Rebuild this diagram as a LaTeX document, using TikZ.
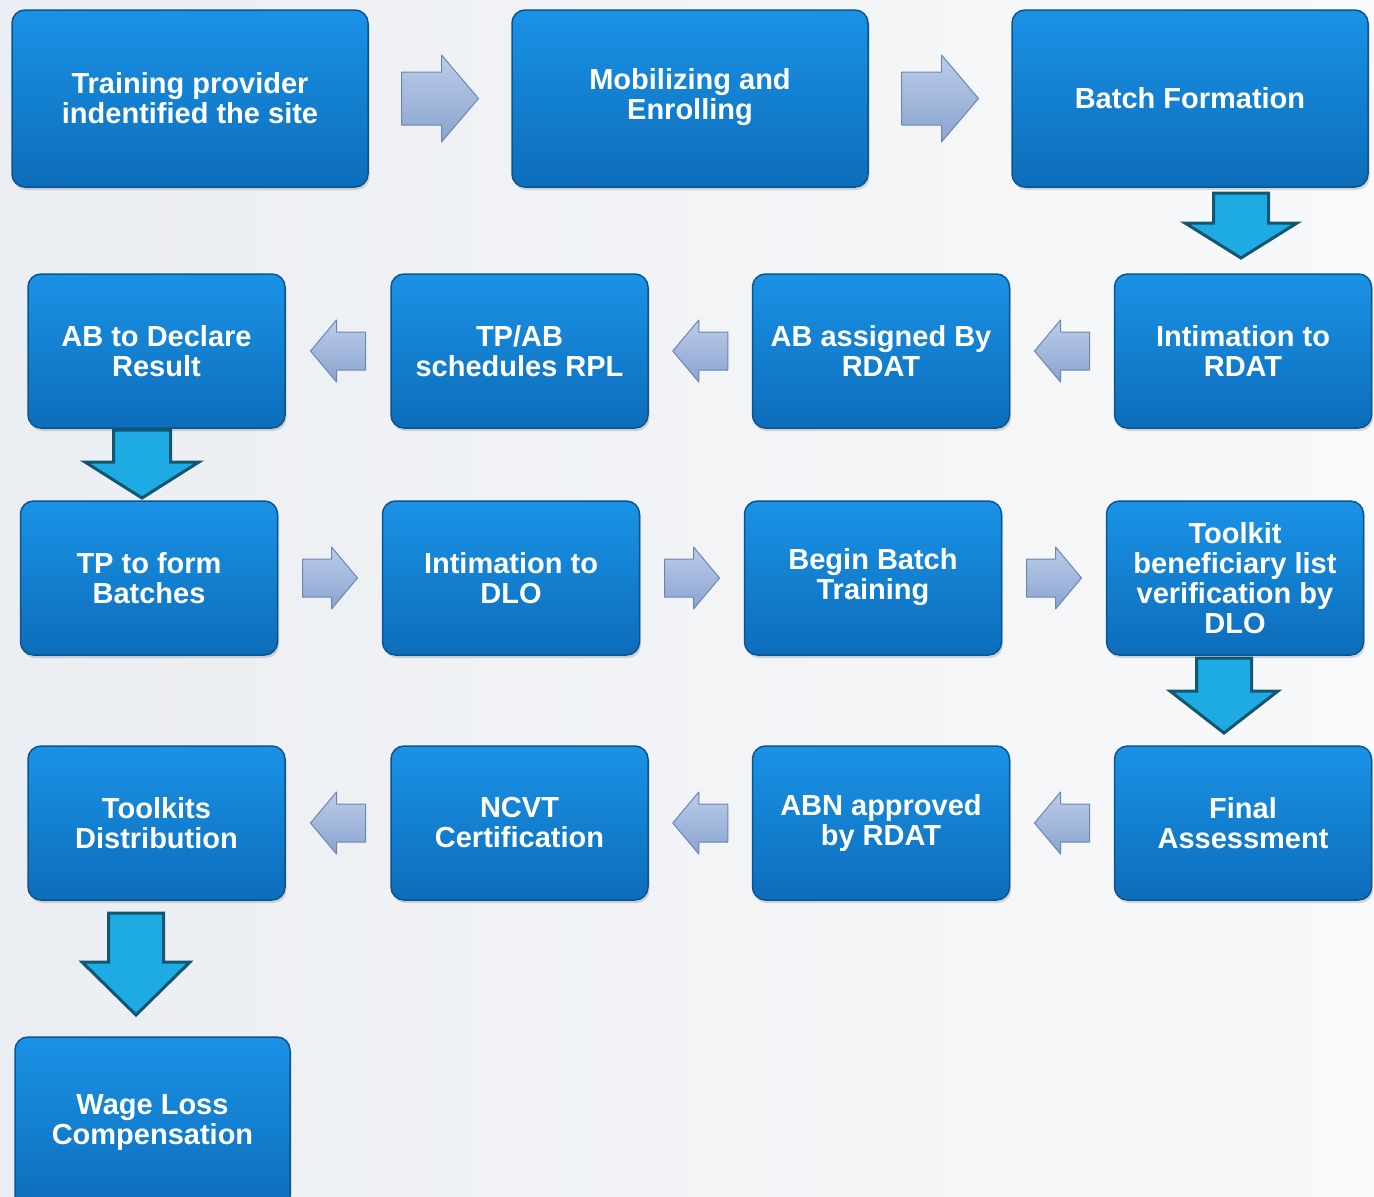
\documentclass[tikz,border=0pt]{standalone}
\usepackage{fontspec}
\setmainfont{Liberation Sans}
\usetikzlibrary{calc}
\usetikzlibrary{shadows}

\definecolor{bgleft}{HTML}{EBEEF2}
\definecolor{bgright}{HTML}{F8F9FA}
\definecolor{boxtop}{HTML}{1A92E6}
\definecolor{boxbot}{HTML}{0D6DBA}
\definecolor{boxedge}{HTML}{0A5590}
\definecolor{arrtop}{HTML}{BCCDEA}
\definecolor{arrbot}{HTML}{8AA3CF}
\definecolor{arredge}{HTML}{6C86B4}
\definecolor{downfill}{HTML}{1EAAE2}
\definecolor{downedge}{HTML}{13566F}

\tikzset{
  stepbox/.style={rounded corners=13pt, draw=boxedge, line width=1.5pt,
    top color=boxtop, bottom color=boxbot, text=white, align=center,
    font=\fontsize{29}{30}\selectfont\bfseries, inner sep=0pt,
    minimum width=257pt, minimum height=154pt,
    drop shadow={shadow xshift=1.5pt, shadow yshift=-3pt, opacity=.3}},
  widebox/.style={stepbox, minimum width=356pt, minimum height=177pt},
  % block arrow pointing along +x: length, shaft width, head width, head length
  pics/blockarrow/.style n args={4}{code={
    \path[pic actions] (-#1/2,-#2/2) -- (#1/2-#4,-#2/2) -- (#1/2-#4,-#3/2)
      -- (#1/2,0) -- (#1/2-#4,#3/2) -- (#1/2-#4,#2/2) -- (-#1/2,#2/2) -- cycle;
  }},
  flowarr/.style={draw=arredge, line width=1pt, line join=round,
    top color=arrtop, bottom color=arrbot},
  leftarr/.style={flowarr, xscale=-1},
  downarr/.style={draw=downedge, line width=3pt, fill=downfill, rotate=-90}
}

\begin{document}
\begin{tikzpicture}[x=1pt,y=-1pt]

    % background
    \fill[left color=bgleft, right color=bgright] (0,0) rectangle (1374,1197);
    \useasboundingbox (0,0) rectangle (1374,1197);

    % first row
    \node[widebox] (b1) at (190,98.5) {Training provider\\indentified the site};
    \node[widebox] (b2) at (690,98.5) {Mobilizing and\\Enrolling\strut};
    \node[widebox] (b3) at (1190,98.5) {Batch Formation};

    % second row
    \node[stepbox] (b4) at (1243,351) {Intimation to\\RDAT};
    \node[stepbox] (b5) at (881,351) {AB assigned By\\RDAT};
    \node[stepbox] (b6) at (519.5,351) {TP/AB\\schedules RPL};
    \node[stepbox] (b7) at (156.5,351) {AB to Declare\\Result};

    % third row
    \node[stepbox] (b8) at (149,578) {TP to form\\Batches};
    \node[stepbox] (b9) at (511,578) {Intimation to\\DLO};
    \node[stepbox] (b10) at (873,578) {Begin Batch\\Training\strut};
    \node[stepbox] (b11) at (1235,578) {Toolkit\\beneficiary list\\verification by\\DLO};

    % fourth row
    \node[stepbox] (b12) at (1243,823) {Final\\Assessment};
    \node[stepbox] (b13) at (881,823) {ABN approved\\by RDAT};
    \node[stepbox] (b14) at (519.5,823) {NCVT\\Certification};
    \node[stepbox] (b15) at (156.5,823) {Toolkits\\Distribution};

    % last box
    \node[stepbox, minimum width=275pt, minimum height=172pt] (b16) at (152.5,1123) {Wage Loss\\Compensation};

    % arrows between boxes
    \pic[flowarr] (a12) at ($(b1.east)!.5!(b2.west)$) {blockarrow={77}{53}{87}{37}};
    \pic[flowarr] (a23) at ($(b2.east)!.5!(b3.west)$) {blockarrow={77}{53}{87}{37}};
    \pic[leftarr] (a45) at ($(b4.west)!.5!(b5.east)$) {blockarrow={55}{38}{62}{26}};
    \pic[leftarr] (a56) at ($(b5.west)!.5!(b6.east)$) {blockarrow={55}{38}{62}{26}};
    \pic[leftarr] (a67) at ($(b6.west)!.5!(b7.east)$) {blockarrow={55}{38}{62}{26}};
    \pic[flowarr] (a89) at ($(b8.east)!.5!(b9.west)$) {blockarrow={55}{38}{62}{26}};
    \pic[flowarr] (a910) at ($(b9.east)!.5!(b10.west)$) {blockarrow={55}{38}{62}{26}};
    \pic[flowarr] (a1011) at ($(b10.east)!.5!(b11.west)$) {blockarrow={55}{38}{62}{26}};
    \pic[leftarr] (a1213) at ($(b12.west)!.5!(b13.east)$) {blockarrow={55}{38}{62}{26}};
    \pic[leftarr] (a1314) at ($(b13.west)!.5!(b14.east)$) {blockarrow={55}{38}{62}{26}};
    \pic[leftarr] (a1415) at ($(b14.west)!.5!(b15.east)$) {blockarrow={55}{38}{62}{26}};

    % turning arrows
    \pic[downarr] (d34) at (1241,225.5) {blockarrow={65}{55}{112}{35}};
    \pic[downarr] (d78) at (142,464) {blockarrow={68}{57}{114}{36}};
    \pic[downarr] (d1112) at (1224,695.5) {blockarrow={75}{55}{108}{42}};
    \pic[downarr] (d1516) at (136,964) {blockarrow={102}{55}{108}{53}};

\end{tikzpicture}
\end{document}
